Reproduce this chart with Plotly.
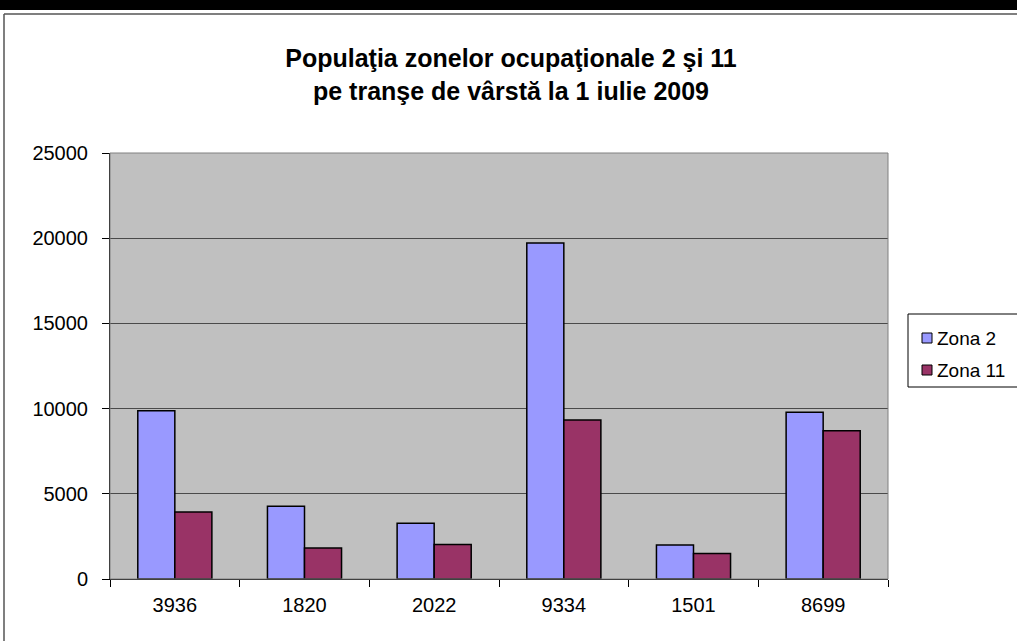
import plotly.graph_objects as go

categories = ["3936", "1820", "2022", "9334", "1501", "8699"]
zona2 = [9880, 4270, 3270, 19720, 2000, 9790]
zona11 = [3936, 1820, 2022, 9334, 1501, 8699]
series_names = ["Zona 2", "Zona 11"]
series_colors = ["#9999FF", "#993366"]
y_ticks = [0, 5000, 10000, 15000, 20000, 25000]

W, H = 1017, 641
L, R, T, B = 110, 888, 153, 579
PW, PH = R - L, B - T


def px(x):
    return (x - L) / PW


def py(y):
    return (B - y) / PH


fig = go.Figure()
for name, vals, col in zip(series_names, [zona2, zona11], series_colors):
    fig.add_bar(x=categories, y=vals, name=name,
                marker=dict(color=col, line=dict(color="#000000", width=1.5)))

font = "Liberation Sans, Arial, sans-serif"

shapes = [
    # plot area border
    dict(type="rect", xref="paper", yref="paper", x0=0, x1=1, y0=0, y1=1,
         line=dict(color="#808080", width=1), layer="above"),
    # black band at the top
    dict(type="rect", xref="paper", yref="paper",
         x0=px(-5), x1=px(W + 5), y0=py(10), y1=py(-5),
         fillcolor="black", line=dict(width=0)),
    # chart border (top and left)
    dict(type="line", xref="paper", yref="paper",
         x0=px(4), x1=px(W + 5), y0=py(14), y1=py(14),
         line=dict(color="#555555", width=1.5)),
    dict(type="line", xref="paper", yref="paper",
         x0=px(4), x1=px(4), y0=py(14), y1=py(H + 5),
         line=dict(color="#555555", width=1.5)),
    # legend box
    dict(type="rect", xref="paper", yref="paper",
         x0=px(908), x1=px(W + 10), y0=py(387), y1=py(314),
         fillcolor="white", line=dict(color="black", width=1)),
]
annotations = []
legend_y = [338, 370]
for name, col, ly in zip(series_names, series_colors, legend_y):
    shapes.append(dict(type="rect", xref="paper", yref="paper",
                       x0=px(922), x1=px(932), y0=py(ly + 5), y1=py(ly - 5),
                       fillcolor=col, line=dict(color="black", width=1)))
    annotations.append(dict(text=name, xref="paper", yref="paper",
                            x=px(935), y=py(ly), xanchor="left", yanchor="middle",
                            showarrow=False,
                            font=dict(family=font, size=19, color="black")))

fig.update_layout(
    width=W, height=H,
    margin=dict(l=L, r=W - R, t=T, b=H - B, pad=0),
    paper_bgcolor="white",
    plot_bgcolor="#C0C0C0",
    barmode="group",
    bargap=0.4286,
    bargroupgap=0,
    showlegend=False,
    font=dict(family=font, size=20, color="black"),
    title=dict(
        text="<b>Populaţia zonelor ocupaţionale 2 şi 11<br>pe tranşe de vârstă la 1 iulie 2009</b>",
        font=dict(family=font, size=25, color="black"),
        xref="container", yref="container",
        x=511 / W, xanchor="center",
        y=1 - 67 / H, yanchor="middle",
    ),
    xaxis=dict(
        type="category",
        showgrid=False,
        showline=True, linecolor="black", linewidth=1,
        ticks="outside", ticklen=7, tickcolor="black",
        tickson="boundaries",
        ticklabelstandoff=8,
        tickfont=dict(family=font, size=20, color="black"),
    ),
    yaxis=dict(
        range=[0, 25000],
        tickvals=y_ticks,
        ticktext=[str(v) for v in y_ticks],
        showgrid=True, gridcolor="#4a4a4a", gridwidth=1,
        showline=True, linecolor="black", linewidth=1,
        ticks="outside", ticklen=7, tickcolor="black",
        ticklabelstandoff=10,
        tickfont=dict(family=font, size=20, color="black"),
        zeroline=False,
    ),
    shapes=shapes,
    annotations=annotations,
)

fig.write_html("out.html",
               config={"displayModeBar": False},
               post_script="document.body.style.margin='0';document.body.style.overflow='hidden';")
